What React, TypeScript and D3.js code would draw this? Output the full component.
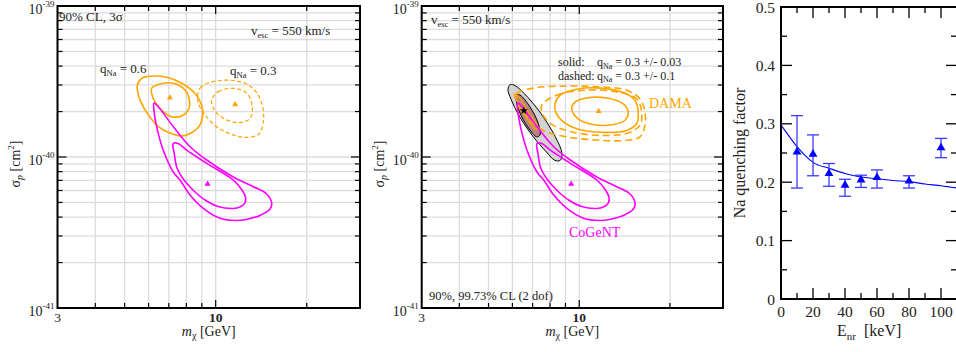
import React from "react";
import * as d3 from "d3";

// ---------- Panels A & B: mass [GeV] vs sigma_p [units of 1e-40 cm^2] ----------
const massDomain: [number, number] = [3, 30];
const sigmaDomain: [number, number] = [0.1, 10];
const massGrid = [4, 5, 6, 7, 8, 9, 10, 20];
const massMajor = [10];
const sigmaGrid = [0.2, 0.3, 0.4, 0.5, 0.6, 0.7, 0.8, 0.9, 1, 2, 3, 4, 5, 6, 7, 8, 9];
const sigmaMajor = [1];
const sigmaTickLabels = [
  { value: 10, exponent: "-39" },
  { value: 1, exponent: "-40" },
  { value: 0.1, exponent: "-41" },
];
const massTickLabels = [
  { value: 3, text: "3", bold: false },
  { value: 10, text: "10", bold: true },
];

// DAMA, q_Na = 0.6 (solid) and q_Na = 0.3 (dashed), 90% CL and 3 sigma
const q06Outer = [[5.51, 3.0], [5.69, 3.32], [6.22, 3.44], [6.89, 3.37], [7.72, 3.08], [8.54, 2.64], [8.99, 2.21], [9.06, 1.9], [8.88, 1.63], [8.43, 1.47], [7.72, 1.38], [7.06, 1.44], [6.46, 1.59], [5.99, 1.9], [5.62, 2.39], [5.51, 2.78]];
const q06Inner = [[6.14, 2.85], [6.55, 3.04], [7.24, 3.08], [7.92, 2.78], [8.18, 2.39], [8.12, 2.05], [7.72, 1.87], [7.15, 1.85], [6.71, 2.0], [6.3, 2.32], [6.14, 2.64]];
const q06Best = [7.06, 2.47];
const q03Outer = [[8.71, 2.5], [8.88, 2.86], [9.43, 3.09], [10.34, 3.21], [11.44, 3.21], [12.67, 3.04], [13.7, 2.65], [14.33, 2.11], [14.35, 1.68], [13.91, 1.42], [12.79, 1.35], [11.42, 1.4], [10.1, 1.58], [9.22, 1.9], [8.81, 2.21]];
const q03Inner = [[9.7, 2.39], [10.2, 2.71], [11.44, 2.85], [12.67, 2.64], [13.22, 2.15], [12.99, 1.8], [12.03, 1.69], [10.88, 1.76], [10.08, 1.95], [9.74, 2.21]];
const q03Best = [11.6, 2.23];

// CoGeNT, 90% and 99.73% CL
const cogentOuter = [[6.25, 2.28], [6.46, 2.15], [7.24, 1.59], [8.23, 1.17], [9.34, 0.955], [11.44, 0.737], [13.32, 0.636], [14.75, 0.569], [15.32, 0.494], [15.12, 0.452], [14.01, 0.41], [12.6, 0.386], [11.73, 0.38], [10.34, 0.393], [9.1, 0.457], [8.23, 0.56], [7.62, 0.704], [7.24, 0.796], [6.71, 1.11], [6.38, 1.59], [6.25, 2.05]];
const cogentInner = [[7.24, 1.23], [7.31, 1.03], [7.45, 0.846], [7.86, 0.704], [8.41, 0.605], [9.22, 0.519], [10.18, 0.47], [11.42, 0.456], [12.03, 0.466], [12.5, 0.496], [12.55, 0.543], [12.22, 0.605], [11.44, 0.704], [9.34, 0.908], [8.02, 1.11], [7.51, 1.23]];
const cogentBest = [9.4, 0.663];

// DAMA with q_Na = 0.3 +/- 0.03 (solid) and +/- 0.1 (dashed)
const damaSolidOuter = [[8.31, 2.25], [8.63, 2.56], [9.8, 2.81], [11.71, 2.86], [14.0, 2.67], [15.3, 2.37], [15.7, 1.94], [15.5, 1.66], [14.36, 1.5], [11.71, 1.46], [9.8, 1.54], [8.74, 1.75], [8.35, 1.99]];
const damaSolidInner = [[9.44, 2.09], [9.68, 2.31], [10.58, 2.46], [12.33, 2.46], [14.0, 2.25], [14.54, 1.99], [14.18, 1.75], [12.97, 1.64], [11.13, 1.64], [9.92, 1.79]];
const damaDashedOuter = [[6.2, 2.43], [6.2, 2.63], [7.04, 2.86], [9.08, 2.95], [11.71, 2.91], [14.36, 2.77], [15.9, 2.43], [16.52, 1.99], [16.52, 1.62], [15.9, 1.36], [14.36, 1.29], [11.71, 1.29], [9.08, 1.36], [7.59, 1.5], [6.86, 1.75], [6.36, 2.09]];
const damaDashedInner = [[7.5, 2.2], [8.41, 2.56], [10.31, 2.77], [13.31, 2.7], [15.5, 2.43], [16.11, 1.99], [15.9, 1.62], [14.36, 1.43], [11.71, 1.39], [9.55, 1.46], [8.2, 1.62], [7.59, 1.89]];
const damaLowIsland = [[6.07, 2.61], [6.26, 2.54], [6.76, 1.99], [7.3, 1.56], [7.16, 1.53], [6.55, 1.93], [6.17, 2.39]];
const damaBest = [11.6, 2.01];

// Combined fit
const combinedOuter = [[5.8, 2.8], [5.9, 3.02], [6.14, 2.96], [6.56, 2.64], [7.45, 1.95], [8.33, 1.36], [8.76, 1.06], [8.65, 0.95], [8.3, 0.95], [7.78, 1.08], [7.0, 1.38], [6.32, 1.87], [5.94, 2.41]];
const combinedInner = [[6.2, 2.57], [6.36, 2.57], [6.86, 2.15], [7.31, 1.67], [7.41, 1.4], [7.22, 1.36], [6.86, 1.51], [6.44, 1.85], [6.2, 2.27]];
const combinedBest = [6.55, 2.03];

// ---------- Panel C: Na quenching factor ----------
const energyDomain: [number, number] = [0, 110];
const qDomain: [number, number] = [0, 0.5];
const energyMajor = [0, 20, 40, 60, 80, 100];
const energyMinor = [10, 30, 50, 70, 90];
const qMajor = [0, 0.1, 0.2, 0.3, 0.4, 0.5];
const qMinor = [0.05, 0.15, 0.25, 0.35, 0.45];
const quenchEnergy = [10, 20, 30, 40, 50, 60, 80, 100];
const quenchValue = [0.252, 0.248, 0.215, 0.195, 0.204, 0.208, 0.202, 0.259];
const quenchLow = [0.19, 0.211, 0.193, 0.176, 0.191, 0.19, 0.19, 0.242];
const quenchHigh = [0.314, 0.281, 0.232, 0.205, 0.212, 0.221, 0.211, 0.275];
const fitEnergy = [0.5, 5, 10, 15, 20, 30, 40, 50, 60, 70, 80, 90, 100, 110];
const fitValue = [0.296, 0.279, 0.261, 0.246, 0.234, 0.224, 0.215, 0.209, 0.206, 0.203, 0.201, 0.197, 0.194, 0.19];

// ---------- styling ----------
const SERIF = "Liberation Serif, Times New Roman, serif";
const ORANGE = "#ffa500";
const MAGENTA = "#ff00ff";
const GRID = "#dcdcdc";
const TEXT = "#222";

type Box = { left: number; right: number; top: number; bottom: number };
const P1: Box = { left: 57.5, right: 360, top: 6, bottom: 308 };
const P2: Box = { left: 421.7, right: 723, top: 6, bottom: 308 };
const P3: Box = { left: 781, right: 957, top: 7, bottom: 299 };

type Scale = (v: number) => number;

function closedPath(pts: number[][], x: Scale, y: Scale) {
  return (
    d3
      .line<number[]>()
      .x((d) => x(d[0]))
      .y((d) => y(d[1]))
      .curve(d3.curveCatmullRomClosed.alpha(0.5))(pts) || ""
  );
}

function LogPanel({ box, yLabelX, children }: { box: Box; yLabelX: number; children: (x: Scale, y: Scale) => React.ReactNode }) {
  const x = d3.scaleLog().domain(massDomain).range([box.left, box.right]);
  const y = d3.scaleLog().domain(sigmaDomain).range([box.bottom, box.top]);
  const cx = (box.left + box.right) / 2;
  const cy = (box.top + box.bottom) / 2;
  return (
    <g>
      {massGrid.map((m) => (
        <line key={"gx" + m} x1={x(m)} x2={x(m)} y1={box.top} y2={box.bottom} stroke={GRID} strokeWidth={1.3} />
      ))}
      {sigmaGrid.map((s) => (
        <line key={"gy" + s} x1={box.left} x2={box.right} y1={y(s)} y2={y(s)} stroke={GRID} strokeWidth={1.3} />
      ))}
      {children(x, y)}
      {massGrid.map((m) => {
        const L = massMajor.includes(m) ? 8 : 5;
        return (
          <g key={"tx" + m}>
            <line x1={x(m)} x2={x(m)} y1={box.bottom} y2={box.bottom - L} stroke="#000" strokeWidth={1.2} />
            <line x1={x(m)} x2={x(m)} y1={box.top} y2={box.top + L} stroke="#000" strokeWidth={1.2} />
          </g>
        );
      })}
      {sigmaGrid.map((s) => {
        const L = sigmaMajor.includes(s) ? 9 : 5;
        return (
          <g key={"ty" + s}>
            <line x1={box.left} x2={box.left + L} y1={y(s)} y2={y(s)} stroke="#000" strokeWidth={1.2} />
            <line x1={box.right} x2={box.right - L} y1={y(s)} y2={y(s)} stroke="#000" strokeWidth={1.2} />
          </g>
        );
      })}
      <rect x={box.left} y={box.top} width={box.right - box.left} height={box.bottom - box.top} fill="none" stroke="#000" strokeWidth={2} />
      {sigmaTickLabels.map((t) => (
        <text key={"yl" + t.exponent} x={box.left - 3} y={y(t.value) + 7.5} textAnchor="end" fontFamily={SERIF} fontSize={14} fill={TEXT}>
          10<tspan dy={-7} fontSize={9}>{t.exponent}</tspan>
        </text>
      ))}
      {massTickLabels.map((t) => (
        <text key={"xl" + t.text} x={x(t.value)} y={box.bottom + 14} textAnchor="middle" fontFamily={SERIF} fontSize={13.5} fontWeight={t.bold ? "bold" : "normal"} fill={TEXT}>
          {t.text}
        </text>
      ))}
      <text x={cx} y={box.bottom + 27.5} textAnchor="middle" fontFamily={SERIF} fontSize={14} fill={TEXT}>
        <tspan fontStyle="italic">m</tspan>
        <tspan dy={3} fontSize={10}>χ</tspan>
        <tspan dy={-3}> [GeV]</tspan>
      </text>
      <text transform={`translate(${yLabelX},${cy + 7}) rotate(-90)`} textAnchor="middle" fontFamily={SERIF} fontSize={14} fill={TEXT}>
        σ<tspan dy={3} fontSize={10} fontStyle="italic">p</tspan>
        <tspan dy={-3}> [cm</tspan>
        <tspan dy={-6} fontSize={9}>2</tspan>
        <tspan dy={6}>]</tspan>
      </text>
    </g>
  );
}

function Marker({ type, x, y, size, color }: { type: d3.SymbolType; x: number; y: number; size: number; color: string }) {
  const p = d3.symbol().type(type).size(size)() || "";
  return <path d={p} transform={`translate(${x},${y})`} fill={color} />;
}

function QPanel() {
  const x = d3.scaleLinear().domain(energyDomain).range([P3.left, P3.right]);
  const y = d3.scaleLinear().domain(qDomain).range([P3.bottom, P3.top]);
  const fitLine =
    d3
      .line<number>()
      .x((_, i) => x(fitEnergy[i]))
      .y((d) => y(d))
      .curve(d3.curveMonotoneX)(fitValue) || "";
  const ebar = "#3b3bff";
  return (
    <g>
      {energyMajor.concat(energyMinor).map((e) => {
        const L = energyMajor.includes(e) ? 11 : 6;
        return (
          <g key={"ex" + e}>
            <line x1={x(e)} x2={x(e)} y1={P3.bottom} y2={P3.bottom - L} stroke="#000" strokeWidth={1.3} />
            <line x1={x(e)} x2={x(e)} y1={P3.top} y2={P3.top + L} stroke="#000" strokeWidth={1.3} />
          </g>
        );
      })}
      {qMajor.concat(qMinor).map((q) => {
        const L = qMajor.includes(q) ? 11 : 6;
        return (
          <g key={"qy" + q}>
            <line x1={P3.left} x2={P3.left + L} y1={y(q)} y2={y(q)} stroke="#000" strokeWidth={1.3} />
            <line x1={P3.right} x2={P3.right - L} y1={y(q)} y2={y(q)} stroke="#000" strokeWidth={1.3} />
          </g>
        );
      })}
      <path d={fitLine} fill="none" stroke="#0000ff" strokeWidth={1.1} />
      {quenchEnergy.map((e, i) => (
        <g key={"pt" + e}>
          <line x1={x(e)} x2={x(e)} y1={y(quenchLow[i])} y2={y(quenchHigh[i])} stroke={ebar} strokeWidth={1.3} />
          <line x1={x(e) - 6} x2={x(e) + 6} y1={y(quenchLow[i])} y2={y(quenchLow[i])} stroke={ebar} strokeWidth={1.3} />
          <line x1={x(e) - 6} x2={x(e) + 6} y1={y(quenchHigh[i])} y2={y(quenchHigh[i])} stroke={ebar} strokeWidth={1.3} />
          <Marker type={d3.symbolTriangle} x={x(e)} y={y(quenchValue[i])} size={34} color="#0000ff" />
        </g>
      ))}
      <rect x={P3.left} y={P3.top} width={P3.right - P3.left} height={P3.bottom - P3.top} fill="none" stroke="#000" strokeWidth={2} />
      {qMajor.map((q) => (
        <text key={"ql" + q} x={P3.left - 6} y={y(q) + 5.5} textAnchor="end" fontFamily={SERIF} fontSize={15.5} fill={TEXT}>
          {q === 0 ? "0" : q.toFixed(1)}
        </text>
      ))}
      {energyMajor.map((e) => (
        <text key={"el" + e} x={x(e)} y={P3.bottom + 18} textAnchor="middle" fontFamily={SERIF} fontSize={15.5} fill={TEXT}>
          {String(e)}
        </text>
      ))}
      <text x={837} y={335.5} fontFamily={SERIF} fontSize={16} fill={TEXT}>
        E<tspan dy={4} fontSize={11}>nr</tspan>
        <tspan dy={-4}>{"\u00a0\u00a0[keV]"}</tspan>
      </text>
      <text transform={`translate(745,${(P3.top + P3.bottom) / 2}) rotate(-90)`} textAnchor="middle" fontFamily={SERIF} fontSize={16} fill={TEXT}>
        Na quenching factor
      </text>
    </g>
  );
}

export default function App() {
  return (
    <svg width={956} height={352} style={{ position: "absolute", left: 0, top: 0, background: "#fff" }}>
      <rect x={0} y={0} width={956} height={352} fill="#fff" />
      <LogPanel box={P1} yLabelX={20}>
        {(x, y) => (
          <g>
            <path d={closedPath(q06Outer, x, y)} fill="none" stroke={ORANGE} strokeWidth={1.6} />
            <path d={closedPath(q06Inner, x, y)} fill="none" stroke={ORANGE} strokeWidth={1.6} />
            <path d={closedPath(q03Outer, x, y)} fill="none" stroke={ORANGE} strokeWidth={1.2} strokeDasharray="4,2.5" />
            <path d={closedPath(q03Inner, x, y)} fill="none" stroke={ORANGE} strokeWidth={1.2} strokeDasharray="4,2.5" />
            <path d={closedPath(cogentOuter, x, y)} fill="none" stroke={MAGENTA} strokeWidth={1.6} />
            <path d={closedPath(cogentInner, x, y)} fill="none" stroke={MAGENTA} strokeWidth={1.6} />
            <Marker type={d3.symbolTriangle} x={x(q06Best[0])} y={y(q06Best[1])} size={16} color={ORANGE} />
            <Marker type={d3.symbolTriangle} x={x(q03Best[0])} y={y(q03Best[1])} size={16} color={ORANGE} />
            <Marker type={d3.symbolTriangle} x={x(cogentBest[0])} y={y(cogentBest[1])} size={16} color={MAGENTA} />
            <text x={59} y={20.5} fontFamily={SERIF} fontSize={13} fill={TEXT}>90% CL, 3σ</text>
            <text x={251} y={35} fontFamily={SERIF} fontSize={13} fill={TEXT}>
              v<tspan dy={3} fontSize={8.5}>esc</tspan>
              <tspan dy={-3}> = 550 km/s</tspan>
            </text>
            <text x={100} y={73} fontFamily={SERIF} fontSize={13} fill={TEXT}>
              q<tspan dy={3} fontSize={8.5}>Na</tspan>
              <tspan dy={-3}> = 0.6</tspan>
            </text>
            <text x={230} y={75} fontFamily={SERIF} fontSize={13} fill={TEXT}>
              q<tspan dy={3} fontSize={8.5}>Na</tspan>
              <tspan dy={-3}> = 0.3</tspan>
            </text>
          </g>
        )}
      </LogPanel>
      <LogPanel box={P2} yLabelX={384}>
        {(x, y) => (
          <g>
            <path d={closedPath(combinedOuter, x, y)} fill="#d3d3d3" stroke="#000" strokeWidth={1} />
            <path d={closedPath(combinedInner, x, y)} fill="#b8847f" stroke="#000" strokeWidth={1} />
            <path d={closedPath(damaDashedOuter, x, y)} fill="none" stroke={ORANGE} strokeWidth={1.6} strokeDasharray="7,4" />
            <path d={closedPath(damaDashedInner, x, y)} fill="none" stroke={ORANGE} strokeWidth={1.6} strokeDasharray="7,4" />
            <path d={closedPath(damaSolidOuter, x, y)} fill="none" stroke={ORANGE} strokeWidth={1.6} />
            <path d={closedPath(damaSolidInner, x, y)} fill="none" stroke={ORANGE} strokeWidth={1.6} />
            <path d={closedPath(damaLowIsland, x, y)} fill="none" stroke={ORANGE} strokeWidth={1.2} />
            <path d={closedPath(cogentOuter, x, y)} fill="none" stroke={MAGENTA} strokeWidth={1.6} />
            <path d={closedPath(cogentInner, x, y)} fill="none" stroke={MAGENTA} strokeWidth={1.6} />
            <Marker type={d3.symbolTriangle} x={x(damaBest[0])} y={y(damaBest[1])} size={16} color={ORANGE} />
            <Marker type={d3.symbolTriangle} x={x(cogentBest[0])} y={y(cogentBest[1])} size={16} color={MAGENTA} />
            <Marker type={d3.symbolStar} x={x(combinedBest[0])} y={y(combinedBest[1])} size={22} color="#000" />
            <text x={431} y={24} fontFamily={SERIF} fontSize={13} fill={TEXT}>
              v<tspan dy={3} fontSize={8.5}>esc</tspan>
              <tspan dy={-3}> = 550 km/s</tspan>
            </text>
            <text x={558} y={66} fontFamily={SERIF} fontSize={12} fill={TEXT}>solid:</text>
            <text x={597} y={66} fontFamily={SERIF} fontSize={12} fill={TEXT}>
              q<tspan dy={2.5} fontSize={8}>Na</tspan>
              <tspan dy={-2.5}> = 0.3 +/- 0.03</tspan>
            </text>
            <text x={558} y={79.5} fontFamily={SERIF} fontSize={12} fill={TEXT}>dashed:</text>
            <text x={597} y={79.5} fontFamily={SERIF} fontSize={12} fill={TEXT}>
              q<tspan dy={2.5} fontSize={8}>Na</tspan>
              <tspan dy={-2.5}> = 0.3 +/- 0.1</tspan>
            </text>
            <text x={649} y={108} fontFamily={SERIF} fontSize={14} fill={ORANGE}>DAMA</text>
            <text x={569} y={237} fontFamily={SERIF} fontSize={14} fill={MAGENTA}>CoGeNT</text>
            <text x={429} y={300} fontFamily={SERIF} fontSize={12.5} fill={TEXT}>90%, 99.73% CL (2 dof)</text>
          </g>
        )}
      </LogPanel>
      <QPanel />
    </svg>
  );
}
